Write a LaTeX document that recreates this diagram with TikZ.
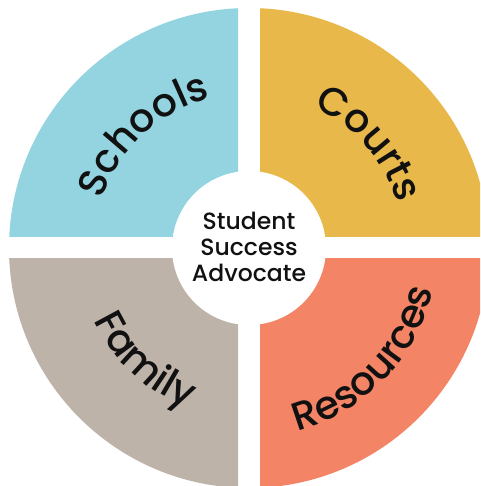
\documentclass[tikz,border=0pt]{standalone}
\usepackage{fontspec}
\setmainfont{Poppins}
\newfontfamily\medfont{Poppins Medium}
\usetikzlibrary{decorations.text}
\definecolor{cSchools}{HTML}{93D4E0}
\definecolor{cCourts}{HTML}{E8B94A}
\definecolor{cFamily}{HTML}{BEB3A9}
\definecolor{cResources}{HTML}{F38465}
\definecolor{ink}{HTML}{111111}
\begin{document}
\begin{tikzpicture}[x=1pt,y=1pt,
  arctext/.style={decorate, decoration={text along path, text align=center,
    text={|\medfont\fontsize{39.5}{40}\selectfont\color{ink}|#1}}}]
\useasboundingbox (-249,-238) rectangle (231,248);
\clip (-249,-238) rectangle (231,248);
\fill[white] (-249,-238) rectangle (231,248);
\coordinate (O) at (0,0);
\begin{scope}\clip (-250,11) rectangle (-11,250); \fill[cSchools] (O) circle[radius=240pt]; \end{scope}
\begin{scope}\clip (11,11) rectangle (250,250); \fill[cCourts] (O) circle[radius=240pt]; \end{scope}
\begin{scope}\clip (-250,-11) rectangle (-11,-250); \fill[cFamily] (O) circle[radius=240pt]; \end{scope}
\begin{scope}\clip (11,-11) rectangle (250,-250); \fill[cResources] (O) circle[radius=240pt]; \end{scope}
\fill[white] (O) circle[radius=77pt];
\node[font=\medfont\fontsize{23.5}{26}\selectfont, text=ink, align=center, inner sep=0pt] (hub) at (0,1) {Student\\Success\\Advocate};
\path[arctext={Schools}] (200:155pt) arc[start angle=200, end angle=66, radius=155pt];
\path[arctext={Courts}] (110:155pt) arc[start angle=110, end angle=-28, radius=155pt];
\path[arctext={Family}] (160:171pt) arc[start angle=160, end angle=294, radius=171pt];
\path[arctext={Resources}] (-110:189pt) arc[start angle=-110, end angle=22, radius=189pt];
\end{tikzpicture}
\end{document}
